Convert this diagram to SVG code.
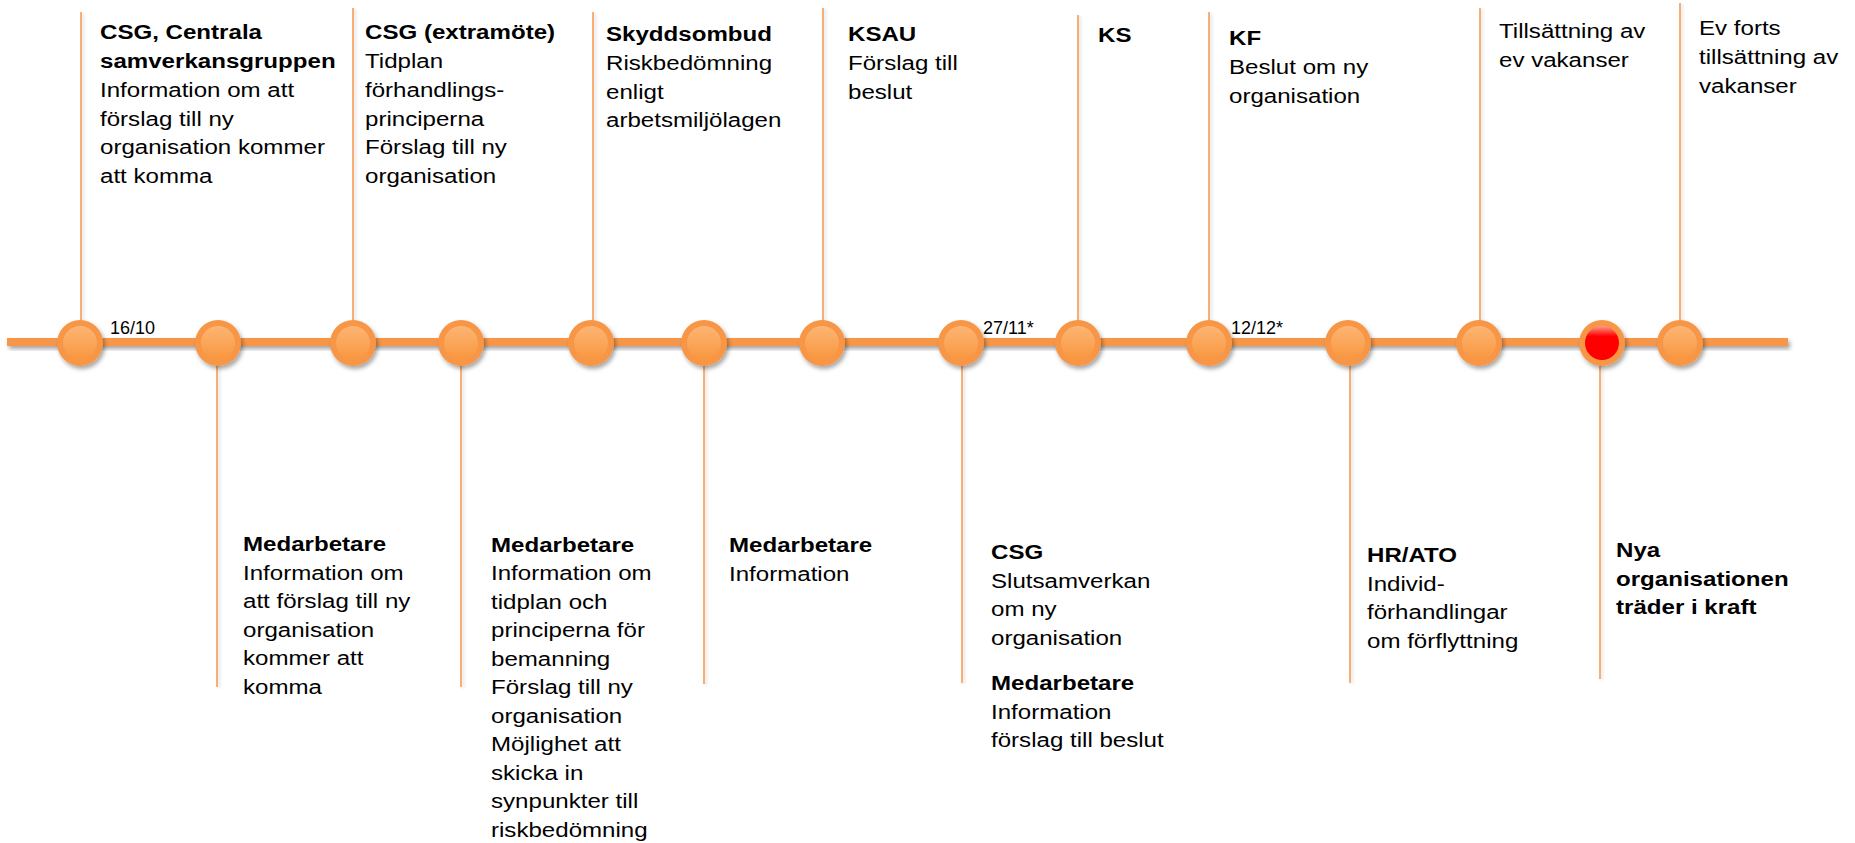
<svg xmlns="http://www.w3.org/2000/svg" width="1855" height="843" viewBox="0 0 1855 843">
<style>
text{font-family:"Liberation Sans",Arial,sans-serif;fill:#000}
.t{font-size:20.6px}
.b{font-weight:bold}
.d{font-size:18px}
.vl{stroke:#F79646;stroke-width:1.5;fill:none}
.ring{fill:#F79646}
.inner{fill:url(#gOr)}
.innerR{fill:url(#gRed)}
</style>
<defs>
<linearGradient id="gOr" x1="0" y1="0" x2="0" y2="1">
<stop offset="0" stop-color="#FDB574"/>
<stop offset="1" stop-color="#F8963E"/>
</linearGradient>
<linearGradient id="gRed" x1="0" y1="0" x2="0" y2="1">
<stop offset="0" stop-color="#FF9A8A"/>
<stop offset="0.3" stop-color="#FF0000"/>
<stop offset="1" stop-color="#FF0000"/>
</linearGradient>
<filter id="sh" x="-30%" y="-30%" width="170%" height="190%">
<feDropShadow dx="2" dy="3" stdDeviation="2" flood-color="#000" flood-opacity="0.35"/>
</filter>
<filter id="shl" x="-50%" y="-5%" width="400%" height="110%">
<feDropShadow dx="2" dy="1" stdDeviation="1.5" flood-color="#000" flood-opacity="0.15"/>
</filter>
<g id="dot">
<circle r="23" class="ring"/>
<circle r="17" class="inner"/>
</g>
</defs>
<rect width="1855" height="843" fill="#fff"/>

<g id="connectors" filter="url(#shl)">
<line class="vl" x1="81" y1="12" x2="81" y2="343"/>
<line class="vl" x1="353" y1="8" x2="353" y2="343"/>
<line class="vl" x1="593" y1="12" x2="593" y2="343"/>
<line class="vl" x1="823" y1="8" x2="823" y2="343"/>
<line class="vl" x1="1078" y1="15" x2="1078" y2="343"/>
<line class="vl" x1="1209" y1="12" x2="1209" y2="343"/>
<line class="vl" x1="1480" y1="8" x2="1480" y2="343"/>
<line class="vl" x1="1680" y1="3" x2="1680" y2="343"/>
<line class="vl" x1="217" y1="343" x2="217" y2="687"/>
<line class="vl" x1="461" y1="343" x2="461" y2="687"/>
<line class="vl" x1="704" y1="343" x2="704" y2="684"/>
<line class="vl" x1="962" y1="343" x2="962" y2="683"/>
<line class="vl" x1="1350" y1="343" x2="1350" y2="683"/>
<line class="vl" x1="1600" y1="343" x2="1600" y2="679"/>
</g>

<g id="timeline">
<rect x="7" y="338" width="1781" height="8" fill="#F79646" filter="url(#sh)"/>
</g>

<g id="dots" filter="url(#sh)">
<use href="#dot" x="80" y="343"/>
<use href="#dot" x="218" y="343"/>
<use href="#dot" x="353" y="343"/>
<use href="#dot" x="461" y="343"/>
<use href="#dot" x="591" y="343"/>
<use href="#dot" x="704" y="343"/>
<use href="#dot" x="822" y="343"/>
<use href="#dot" x="961" y="343"/>
<use href="#dot" x="1078" y="343"/>
<use href="#dot" x="1209" y="343"/>
<use href="#dot" x="1348" y="343"/>
<use href="#dot" x="1479" y="343"/>
<g transform="translate(1602,343)"><circle r="23" class="ring"/><circle r="17" class="innerR"/></g>
<use href="#dot" x="1680" y="343"/>
</g>

<g id="dates">
<text class="d" x="110" y="334">16/10</text>
<text class="d" x="983" y="334">27/11*</text>
<text class="d" x="1231" y="334">12/12*</text>
</g>

<g id="n-csg">
<text class="t" transform="translate(100,39.3) scale(1.17,1)"><tspan x="0" class="b">CSG, Centrala</tspan><tspan x="0" dy="28.8" class="b">samverkansgruppen</tspan><tspan x="0" dy="28.8">Information om att</tspan><tspan x="0" dy="28.8">förslag till ny</tspan><tspan x="0" dy="28.8">organisation kommer</tspan><tspan x="0" dy="28.8">att komma</tspan></text>
</g>
<g id="n-csg-extra">
<text class="t" transform="translate(365,39.3) scale(1.17,1)"><tspan x="0" class="b">CSG (extramöte)</tspan><tspan x="0" dy="28.8">Tidplan</tspan><tspan x="0" dy="28.8">förhandlings-</tspan><tspan x="0" dy="28.8">principerna</tspan><tspan x="0" dy="28.8">Förslag till ny</tspan><tspan x="0" dy="28.8">organisation</tspan></text>
</g>
<g id="n-skydd">
<text class="t" transform="translate(606,41) scale(1.17,1)"><tspan x="0" class="b">Skyddsombud</tspan><tspan x="0" dy="28.8">Riskbedömning</tspan><tspan x="0" dy="28.8">enligt</tspan><tspan x="0" dy="28.8">arbetsmiljölagen</tspan></text>
</g>
<g id="n-ksau">
<text class="t" transform="translate(848,41) scale(1.17,1)"><tspan x="0" class="b">KSAU</tspan><tspan x="0" dy="28.8">Förslag till</tspan><tspan x="0" dy="28.8">beslut</tspan></text>
</g>
<g id="n-ks">
<text class="t b" transform="translate(1098,42) scale(1.17,1)">KS</text>
</g>
<g id="n-kf">
<text class="t" transform="translate(1229,45) scale(1.17,1)"><tspan x="0" class="b">KF</tspan><tspan x="0" dy="28.8">Beslut om ny</tspan><tspan x="0" dy="28.8">organisation</tspan></text>
</g>
<g id="n-tills">
<text class="t" transform="translate(1499,38) scale(1.17,1)"><tspan x="0">Tillsättning av</tspan><tspan x="0" dy="28.8">ev vakanser</tspan></text>
</g>
<g id="n-evforts">
<text class="t" transform="translate(1699,35) scale(1.17,1)"><tspan x="0">Ev forts</tspan><tspan x="0" dy="28.8">tillsättning av</tspan><tspan x="0" dy="28.8">vakanser</tspan></text>
</g>

<g id="n-med1">
<text class="t" transform="translate(243,551) scale(1.17,1)"><tspan x="0" class="b">Medarbetare</tspan><tspan x="0" dy="28.6">Information om</tspan><tspan x="0" dy="28.6">att förslag till ny</tspan><tspan x="0" dy="28.6">organisation</tspan><tspan x="0" dy="28.6">kommer att</tspan><tspan x="0" dy="28.6">komma</tspan></text>
</g>
<g id="n-med2">
<text class="t" transform="translate(491,552) scale(1.17,1)"><tspan x="0" class="b">Medarbetare</tspan><tspan x="0" dy="28.5">Information om</tspan><tspan x="0" dy="28.5">tidplan och</tspan><tspan x="0" dy="28.5">principerna för</tspan><tspan x="0" dy="28.5">bemanning</tspan><tspan x="0" dy="28.5">Förslag till ny</tspan><tspan x="0" dy="28.5">organisation</tspan><tspan x="0" dy="28.5">Möjlighet att</tspan><tspan x="0" dy="28.5">skicka in</tspan><tspan x="0" dy="28.5">synpunkter till</tspan><tspan x="0" dy="28.5">riskbedömning</tspan></text>
</g>
<g id="n-med3">
<text class="t" transform="translate(729,552) scale(1.17,1)"><tspan x="0" class="b">Medarbetare</tspan><tspan x="0" dy="28.6">Information</tspan></text>
</g>
<g id="n-csg-slut">
<text class="t" transform="translate(991,559) scale(1.17,1)"><tspan x="0" class="b">CSG</tspan><tspan x="0" dy="29">Slutsamverkan</tspan><tspan x="0" dy="28.5">om ny</tspan><tspan x="0" dy="29">organisation</tspan><tspan x="0" dy="44.3" class="b">Medarbetare</tspan><tspan x="0" dy="29">Information</tspan><tspan x="0" dy="28.7">förslag till beslut</tspan></text>
</g>
<g id="n-hr">
<text class="t" transform="translate(1367,562) scale(1.17,1)"><tspan x="0" class="b">HR/ATO</tspan><tspan x="0" dy="29">Individ-</tspan><tspan x="0" dy="28.5">förhandlingar</tspan><tspan x="0" dy="28.5">om förflyttning</tspan></text>
</g>
<g id="n-nya">
<text class="t b" transform="translate(1616,557) scale(1.17,1)"><tspan x="0">Nya</tspan><tspan x="0" dy="29">organisationen</tspan><tspan x="0" dy="28.5">träder i kraft</tspan></text>
</g>
</svg>
